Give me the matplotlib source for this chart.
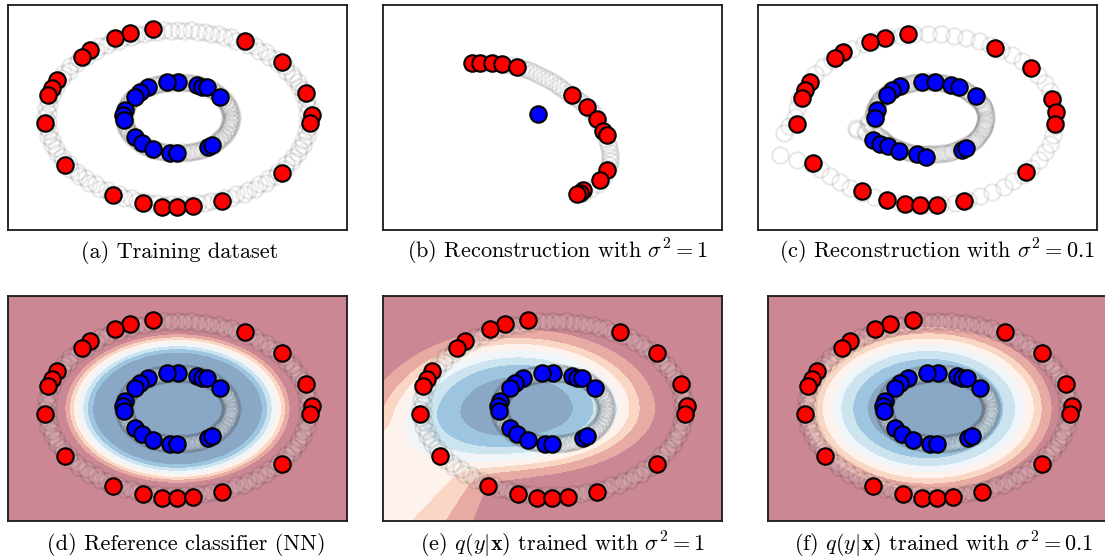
import numpy as np
import matplotlib.pyplot as plt

plt.rcParams["mathtext.fontset"] = "cm"
plt.rcParams["font.family"] = "cmr10"
plt.rcParams["axes.unicode_minus"] = False

# unlabeled points: angles (deg) on the two circles, two interleaved passes
ring_deg = [0, 6, 12, 18, 24, 30, 36, 42, 48, 54, 60, 66, 72, 78, 84, 90, 96, 102, 108, 114,
            120, 126, 132, 138, 144, 150, 156, 162, 168, 174, 180, 186, 192, 198, 204, 210, 216,
            222, 228, 234, 240, 246, 252, 258, 264, 270, 276, 282, 288, 294, 300, 306, 312, 318,
            324, 330, 336, 342, 348, 354]
ring_deg_b = [3, 9, 15, 21, 27, 33, 39, 45, 51, 57, 63, 69, 75, 81, 87, 93, 99, 105, 111, 117,
              123, 129, 135, 141, 147, 153, 159, 165, 171, 177, 183, 189, 195, 201, 207, 213, 219,
              225, 231, 237, 243, 249, 255, 261, 267, 273, 279, 285, 291, 297, 303, 309, 315, 321,
              327, 333, 339, 345, 351, 357]
outer_r = [1.0, 0.98]
inner_r = [0.40, 0.41]

# labeled training points (a, d, e, f)
red_x = [-0.185, -0.358, -0.472, -0.660, -0.721, -0.909, -0.947, -0.977, -1.000, -0.849, -0.487,
         -0.260, -0.117, -0.004, 0.117, 0.336, 0.789, 0.970, 1.015, 1.000, 0.789, 0.509]
red_y = [1.011, 0.966, 0.909, 0.771, 0.691, 0.429, 0.337, 0.257, -0.063, -0.543, -0.886,
         -0.977, -1.023, -1.023, -1.011, -0.954, -0.634, 0.280, 0.029, -0.063, 0.634, 0.874]
blue_x = [0.004, -0.079, -0.223, -0.283, -0.321, 0.147, 0.185, 0.223, 0.321, -0.396, -0.411,
          -0.404, -0.321, -0.268, -0.185, -0.057, -0.004, 0.230, 0.260]
blue_y = [0.406, 0.406, 0.349, 0.291, 0.234, 0.371, 0.349, 0.349, 0.234, 0.086, 0.029,
          -0.029, -0.223, -0.291, -0.360, -0.406, -0.406, -0.337, -0.314]

# (b) reconstruction, sigma^2 = 1
b_red_x = [-0.608, -0.547, -0.457, -0.381, -0.268, 0.147, 0.260, 0.336, 0.381, 0.411, 0.411,
           0.358, 0.230, 0.208, 0.185]
b_red_y = [0.623, 0.623, 0.623, 0.611, 0.577, 0.257, 0.120, -0.017, -0.154, -0.200, -0.600,
           -0.714, -0.829, -0.863, -0.874]
b_blue_x = [-0.109]
b_blue_y = [0.040]
b_gray_x = [-0.600, -0.560, -0.509, -0.450, -0.390, -0.321, -0.290, -0.260, -0.235, -0.208,
            -0.178, -0.147, -0.117, -0.087, -0.056, -0.026, 0.004, 0.034, 0.060, 0.087, 0.120,
            0.150, 0.180, 0.208, 0.235, 0.260, 0.290, 0.310, 0.350, 0.389, 0.405, 0.419, 0.428,
            0.434, 0.434, 0.434, 0.428, 0.420, 0.390, 0.340, 0.283, 0.230]
b_gray_y = [0.623, 0.623, 0.623, 0.620, 0.612, 0.600, 0.590, 0.580, 0.568, 0.554, 0.538,
            0.520, 0.498, 0.474, 0.452, 0.429, 0.400, 0.371, 0.343, 0.314, 0.282, 0.250,
            0.220, 0.189, 0.155, 0.120, 0.080, 0.040, -0.060, -0.180, -0.240, -0.300, -0.350,
            -0.400, -0.450, -0.500, -0.545, -0.590, -0.680, -0.760, -0.817, -0.860]

# (c) reconstruction, sigma^2 = 0.1
c_red_x = [-0.151, -0.324, -0.437, -0.640, -0.700, -0.889, -0.926, -0.949, -0.986, -0.866, -0.497,
           -0.309, -0.173, -0.060, 0.068, 0.279, 0.745, 0.941, 0.971, 0.964, 0.783, 0.512]
c_red_y = [0.949, 0.903, 0.857, 0.743, 0.674, 0.400, 0.309, 0.217, -0.069, -0.514, -0.834,
           -0.937, -0.983, -0.994, -0.994, -0.949, -0.617, 0.206, 0.057, -0.069, 0.560, 0.789]
c_blue_x = [-0.045, 0.053, -0.211, -0.271, -0.309, 0.181, 0.241, 0.369, -0.384, -0.399, -0.414,
            -0.361, -0.301, -0.218, -0.083, -0.008, 0.264, 0.294]
c_blue_y = [0.400, 0.400, 0.354, 0.309, 0.251, 0.366, 0.343, 0.240, 0.080, 0.000, -0.251,
            -0.297, -0.320, -0.377, -0.411, -0.446, -0.366, -0.343]
c_outer_deg = [0, 6, 12, 18, 24, 30, 36, 42, 48, 54, 60, 66, 72, 78, 84, 90, 96, 102, 108, 114,
               120, 126, 132, 138, 144, 150, 156, 162, 168, 174, 180, 185, 189, 201, 206, 211, 216,
               222, 228, 234, 240, 246, 252, 258, 264, 270, 276, 282, 288, 294, 300, 306, 312, 318,
               324, 330, 336, 342, 348, 354]
c_outer_r = [0.97, 0.97, 0.97, 0.97, 0.97, 0.96, 0.96, 0.96, 0.95, 0.95, 0.95, 0.95, 0.95, 0.95, 0.95,
             0.95, 0.95, 0.95, 0.96, 0.96, 0.96, 0.97, 0.97, 0.97, 0.98, 0.98, 0.98, 0.98, 0.99, 0.99,
             1.00, 1.05, 1.10, 1.19, 1.10, 1.02, 1.00, 0.99, 0.99, 0.99, 0.99, 0.99, 0.99, 0.99, 0.99,
             0.99, 0.99, 0.99, 0.99, 0.98, 0.98, 0.98, 0.97, 0.97, 0.97, 0.97, 0.97, 0.97, 0.97, 0.97]
c_inner_r = [0.44, 0.44, 0.44, 0.44, 0.43, 0.43, 0.42, 0.42, 0.42, 0.41, 0.41, 0.41, 0.41, 0.41, 0.41,
             0.41, 0.41, 0.41, 0.41, 0.41, 0.41, 0.41, 0.41, 0.41, 0.41, 0.41, 0.41, 0.41, 0.41, 0.41,
             0.40, 0.45, 0.55, 0.50, 0.44, 0.42, 0.42, 0.42, 0.42, 0.42, 0.42, 0.42, 0.42, 0.42, 0.42,
             0.42, 0.42, 0.42, 0.43, 0.43, 0.43, 0.43, 0.43, 0.44, 0.44, 0.44, 0.44, 0.44, 0.44, 0.44]

# classifier bands: P(blue) boundaries and the distance where each one sits
prob_levels = [0.875, 0.75, 0.625, 0.5, 0.375, 0.25, 0.125]
d_bounds = [0.64, 0.68, 0.715, 0.75, 0.785, 0.815, 0.85]
e_bounds = [0.43, 0.59, 0.69, 0.79, 0.87, 0.95, 1.07]
f_bounds = [0.46, 0.57, 0.66, 0.73, 0.80, 0.86, 0.935]

# field shape per panel: centre x, centre y, x-scale, y-scale up, y-scale down
d_shape = (0.0, 0.0, 1.0, 1.0, 1.0)
e_shape = (-0.26, 0.0, 0.97, 0.85, 0.72)
f_shape = (-0.07, 0.0, 1.0, 1.0, 1.0)
# (e) only: open fan towards the lower left
# (axis deg, floor value, rise, ref angle, power, inner lean)
e_fan = (217, 0.82, 0.05, 21, 2.68, 0.25)

captions = [
    "(a) Training dataset",
    r"(b) Reconstruction with $\sigma^2 = 1$",
    r"(c) Reconstruction with $\sigma^2 = 0.1$",
    "(d) Reference classifier (NN)",
    r"(e) $q(y|\mathbf{x})$ trained with $\sigma^2 = 1$",
    r"(f) $q(y|\mathbf{x})$ trained with $\sigma^2 = 0.1$",
]

LIM = 1.28
MS = 140


def polar(deg, r):
    a = np.deg2rad(np.asarray(deg, dtype=float))
    r = np.asarray(r, dtype=float)
    return r * np.cos(a), r * np.sin(a)


def band_field(X, Y, shape, fan=None):
    cx, cy, sx, sy_up, sy_dn = shape
    dx = (X - cx) / sx
    dy = np.where(Y > cy, (Y - cy) / sy_up, (Y - cy) / sy_dn)
    D = np.hypot(dx, dy)
    if fan is None:
        return D
    fan_deg, floor, rise, ref, pw, lean = fan
    ang = np.rad2deg(np.arctan2(Y - cy, X - cx)) % 360
    delta = np.abs((ang - fan_deg + 180) % 360 - 180)
    D = D / (1 + lean * np.exp(-(delta / 40) ** 2) * D)
    far = floor + rise * (delta / ref) ** pw
    tau = 0.045
    return -tau * np.logaddexp(-D / tau, -far / tau)


def setup(ax):
    ax.set_xlim(-LIM, LIM)
    ax.set_ylim(-LIM, LIM)
    ax.set_xticks([])
    ax.set_yticks([])
    for s in ax.spines.values():
        s.set_linewidth(1.3)
        s.set_color("#1a1a1a")
        s.set_zorder(5)


def gray(ax, x, y):
    ax.scatter(x, y, s=MS, facecolors="white", edgecolors="black",
               linewidths=1.5, alpha=0.09, zorder=2)


def gray_rings(ax, outer, inner):
    for deg, ro, ri in [(ring_deg, outer[0], inner[0]), (ring_deg_b, outer[1], inner[1])]:
        gray(ax, *polar(deg, [ro] * len(deg)))
        gray(ax, *polar(deg, [ri] * len(deg)))


def labeled(ax, rx, ry, bx, by):
    ax.scatter(rx, ry, s=MS, c="red", edgecolors="black", linewidths=1.5, zorder=3)
    ax.scatter(bx, by, s=MS, c="blue", edgecolors="black", linewidths=1.5, zorder=3)


def bands(ax, bounds, shape, fan=None):
    gx = np.linspace(-1.35, 1.35, 800)
    gy = np.linspace(-1.35, 1.35, 600)
    X, Y = np.meshgrid(gx, gy)
    D = band_field(X, Y, shape, fan)
    mids = [p + 0.0625 for p in prob_levels] + [0.0625]
    # RdBu at alpha 0.5 on white, pre-blended so band edges show no seams
    cols = [tuple(0.5 * np.array(plt.cm.RdBu(m)[:3]) + 0.5) for m in mids]
    ax.contourf(X, Y, D, levels=[0] + bounds + [50], colors=cols, zorder=0,
                antialiased=False)


fig = plt.figure(figsize=(11.05, 5.59), dpi=100)
W, H = 1105, 559
boxes = [(8, 5), (383, 5), (758, 5), (8, 296), (383, 296), (768, 296)]
axes = []
for (px, py) in boxes:
    ax = fig.add_axes([px / W, 1 - (py + 225) / H, 339 / W, 225 / H])
    setup(ax)
    axes.append(ax)

# (a)
gray_rings(axes[0], outer_r, inner_r)
labeled(axes[0], red_x, red_y, blue_x, blue_y)

# (b)
gray(axes[1], b_gray_x, b_gray_y)
labeled(axes[1], b_red_x, b_red_y, b_blue_x, b_blue_y)

# (c)
gray(axes[2], *polar(c_outer_deg, c_outer_r))
gray(axes[2], *polar(ring_deg, c_inner_r))
gray(axes[2], *polar(ring_deg_b, c_inner_r))
labeled(axes[2], c_red_x, c_red_y, c_blue_x, c_blue_y)

# (d) (e) (f)
for ax, bnd, shp, fan in [(axes[3], d_bounds, d_shape, None), (axes[4], e_bounds, e_shape, e_fan),
                          (axes[5], f_bounds, f_shape, None)]:
    bands(ax, bnd, shp, fan)
    gray_rings(ax, outer_r, inner_r)
    labeled(ax, red_x, red_y, blue_x, blue_y)

cap_x = [180, 557, 937, 186, 562, 944]
cap_y = [252, 252, 252, 545, 545, 545]
for t, cx, cy in zip(captions, cap_x, cap_y):
    fig.text(cx / W, 1 - cy / H, t, ha="center", va="center", fontsize=16)

fig.savefig("out.png", dpi=100)
